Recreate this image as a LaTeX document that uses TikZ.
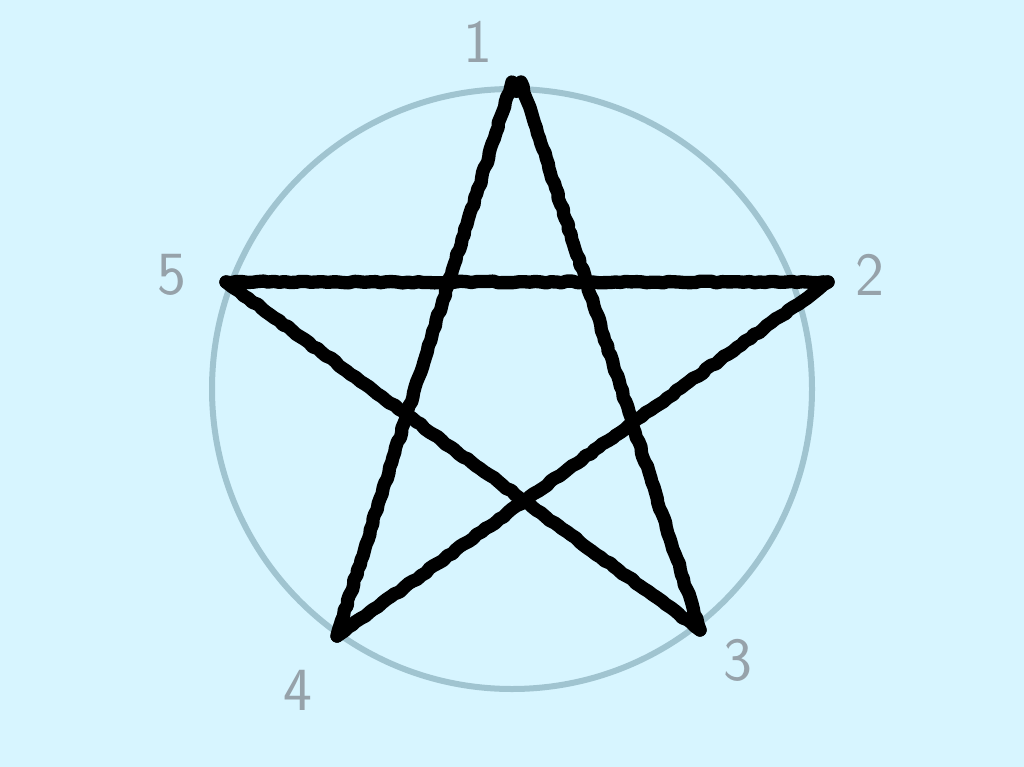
\documentclass[tikz,border=0pt]{standalone}
\usepackage{tikz}
\usetikzlibrary{decorations.pathmorphing}
\definecolor{skybg}{RGB}{215,245,255}
\definecolor{ringgrey}{RGB}{160,196,208}
\definecolor{labgrey}{RGB}{150,162,170}

\begin{document}
\begin{tikzpicture}[x=0.75pt,y=0.75pt,yscale=-1,xscale=1,
  starline/.style={draw=black,line width=10pt,line cap=round,line join=round,
    decorate,decoration={random steps,segment length=4pt,amplitude=0.7pt}},
  numlab/.style={text=labgrey,font=\sffamily\fontsize{46}{46}\selectfont,inner sep=0pt}]
%background
\fill [skybg] (0,0) rectangle (1024,767);
\useasboundingbox (0,0) rectangle (1024,767);

%Shape: Circle
\draw [ringgrey,line width=4.5pt] (512,389) circle [radius=300];

%star corners (the top one is blunt, two ends)
\coordinate (p1a) at (512,82);
\coordinate (p1b) at (521,82);
\coordinate (p2) at (828,282);
\coordinate (p3) at (700,630);
\coordinate (p4) at (337,636);
\coordinate (p5) at (226,282);

%Star lines
\draw [starline] (p1b) -- (p3);
\draw [starline] (p3) -- (p5);
\draw [starline] (p5) -- (p2);
\draw [starline] (p2) -- (p4);
\draw [starline] (p4) -- (p1a);
\fill [black] (516.5,88) circle [radius=10];

%labels
\node [numlab] (l1) at (478,42) {1};
\node [numlab] (l2) at (870,275) {2};
\node [numlab] (l3) at (738,660) {3};
\node [numlab] (l4) at (298,690) {4};
\node [numlab] (l5) at (172,275) {5};

\end{tikzpicture}
\end{document}
